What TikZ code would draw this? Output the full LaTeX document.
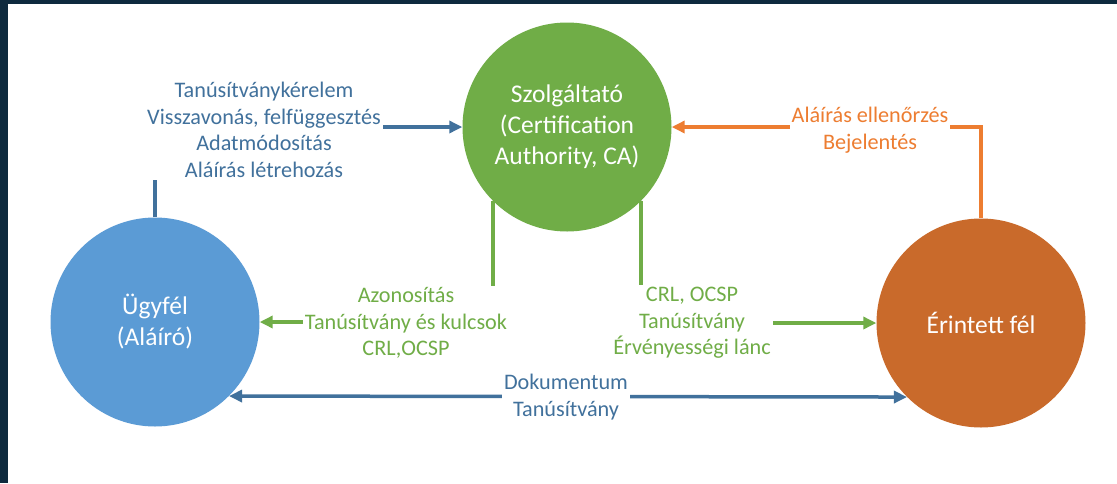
\documentclass[tikz,border=0pt]{standalone}
\usepackage{fontspec}
\setmainfont{Carlito}
\usepackage{tikz}
\usetikzlibrary{arrows.meta, positioning}
\definecolor{framedark}{HTML}{0E2A3E}
\definecolor{clientblue}{HTML}{5B9BD5}
\definecolor{cagreen}{HTML}{70AD47}
\definecolor{partyorange}{HTML}{C96A2B}
\definecolor{linkblue}{HTML}{41719C}
\definecolor{linkorange}{HTML}{ED7D31}
\tikzset{
    party/.style={circle, minimum size=209pt, inner sep=0pt, text=white, align=center, font=\fontsize{25.5}{31}\selectfont},
    flowlabel/.style={fill=white, inner sep=2pt, align=center, font=\fontsize{22.2}{26.5}\selectfont},
    flow/.style={line width=3.5pt, -{Triangle[length=13pt, width=12pt]}},
    twoway/.style={line width=3.5pt, {Triangle[length=13pt, width=12pt]}-{Triangle[length=13pt, width=12pt]}}
}

\begin{document}
\begin{tikzpicture}[x=1pt, y=-1pt]

    % frame
    \useasboundingbox (0,0) rectangle (1117,483);
    \fill[framedark] (0,0) rectangle (1117,483);
    \fill[white] (8,4) rectangle (1117,483);

    % Parties
    \node (ca) [party, fill=cagreen] at (567,127) {Szolgáltató\\(Certification\\Authority, CA)};
    \node (ugyfel) [party, fill=clientblue] at (155,322) {Ügyfél\\(Aláíró)};
    \node (erintett) [party, fill=partyorange] at (981,323) {Érintett fél};

    % Connections
    \draw [flow, linkblue] (ugyfel.north) |- (ca.west);
    \draw [flow, linkorange] (erintett.north) |- (ca.east);
    \draw [flow, cagreen] (ca.-135) |- (ugyfel.east);
    \draw [flow, cagreen] (ca.-45) |- (erintett.west);
    \draw [twoway, linkblue] (ugyfel.-45) -- (erintett.-135);

    % Labels
    \node (request) [flowlabel, text=linkblue] at (264,130) {Tanúsítványkérelem\\Visszavonás, felfüggesztés\\Adatmódosítás\\Aláírás létrehozás};
    \node (check) [flowlabel, text=linkorange] at (870,130) {Aláírás ellenőrzés\\Bejelentés};
    \node (issue) [flowlabel, text=cagreen] at (406,323) {Azonosítás\\Tanúsítvány és kulcsok\\CRL,OCSP};
    \node (validate) [flowlabel, text=cagreen] at (692,323) {CRL, OCSP\\Tanúsítvány\\Érvényességi lánc};
    \node (document) [flowlabel, text=linkblue] at (566,397) {Dokumentum\\Tanúsítvány};

\end{tikzpicture}
\end{document}
